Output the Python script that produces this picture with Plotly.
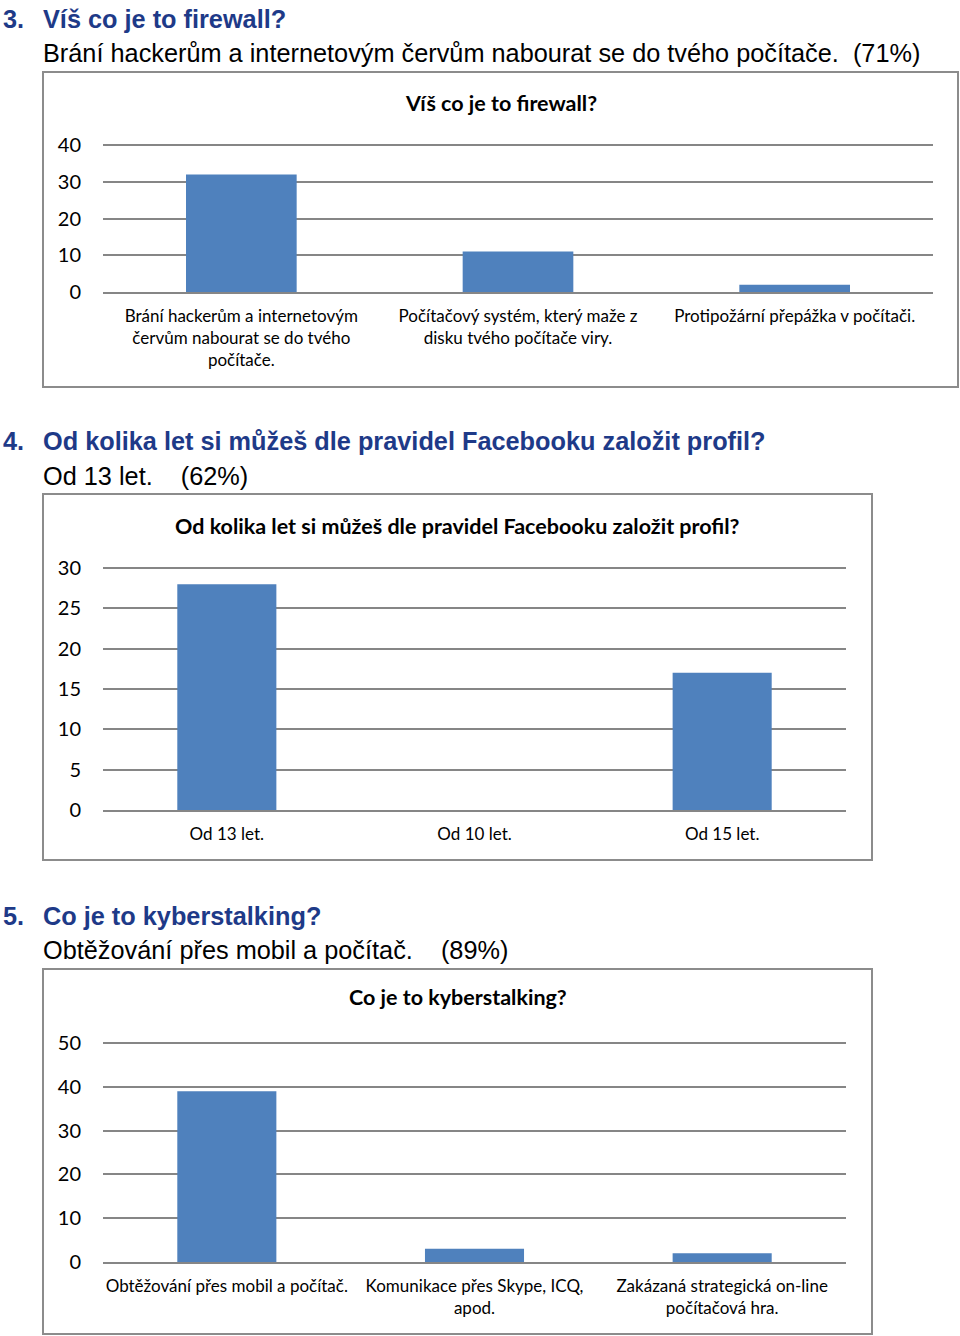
import plotly.graph_objects as go

W, H = 960, 1336

# ---- data ----
q3_categories = ["Brání hackerům a internetovým<br>červům nabourat se do tvého<br>počítače.",
                 "Počítačový systém, který maže z<br>disku tvého počítače viry.",
                 "Protipožární přepážka v počítači."]
q3_values = [32, 11, 2]
q3_ticks = [0, 10, 20, 30, 40]

q4_categories = ["Od 13 let.", "Od 10 let.", "Od 15 let."]
q4_values = [28, 0, 17]
q4_ticks = [0, 5, 10, 15, 20, 25, 30]

q5_categories = ["Obtěžování přes mobil a počítač.",
                 "Komunikace přes Skype, ICQ,<br>apod.",
                 "Zakázaná strategická on-line<br>počítačová hra."]
q5_values = [39, 3, 2]
q5_ticks = [0, 10, 20, 30, 40, 50]

headers = [
    ("3.", "Víš co je to firewall?", "Brání hackerům a internetovým červům nabourat se do tvého počítače.  (71%)"),
    ("4.", "Od kolika let si můžeš dle pravidel Facebooku založit profil?", "Od 13 let.    (62%)"),
    ("5.", "Co je to kyberstalking?", "Obtěžování přes mobil a počítač.    (89%)"),
]
chart_titles = ["Víš co je to firewall?",
                "Od kolika let si můžeš dle pravidel Facebooku založit profil?",
                "Co je to kyberstalking?"]

# ---- layout geometry (pixels) ----
BAR = "#4F81BD"
GRID = "#868686"
NAVY = "#1E3A88"
CHART_FONT = "Lato"
HEAD_FONT = "Liberation Sans"
HEAD_SIZE = 25.3
PAD = 4  # extra pixels above top gridline so plotly keeps it

def px(x):
    return x / W

def py(y):
    return 1 - y / H

charts = [
    dict(cats=q3_categories, vals=q3_values, ticks=q3_ticks, x=(103, 933), y=(292, 145),
         box=(43, 72, 958, 387), title_y=103, head_y=(19, 53)),
    dict(cats=q4_categories, vals=q4_values, ticks=q4_ticks, x=(103, 846), y=(810, 568),
         box=(43, 494, 872, 860), title_y=526, head_y=(441, 476)),
    dict(cats=q5_categories, vals=q5_values, ticks=q5_ticks, x=(103, 846), y=(1262, 1043),
         box=(43, 969, 872, 1334), title_y=997, head_y=(916, 950)),
]

fig = go.Figure()
shapes = []
annotations = []
layout_axes = {}

for i, c in enumerate(charts):
    n = "" if i == 0 else str(i + 1)
    fig.add_trace(go.Bar(x=c["cats"], y=c["vals"], marker=dict(color=BAR, line=dict(width=0)),
                         width=0.4, xaxis="x" + n, yaxis="y" + n, showlegend=False,
                         hoverinfo="x+y"))
    layout_axes["xaxis" + n] = dict(
        domain=[px(c["x"][0]), px(c["x"][1])], anchor="y" + n, automargin=False,
        showline=True, linecolor=GRID, linewidth=1.5, showgrid=False, zeroline=False,
        tickfont=dict(family=CHART_FONT, size=17, color="#000000"), ticks="",
        ticklabelstandoff=8, fixedrange=True, tickangle=0)
    top = c["ticks"][-1]
    y_bot, y_top = c["y"]
    h = y_bot - y_top
    layout_axes["yaxis" + n] = dict(
        domain=[py(y_bot), py(y_top - PAD)], anchor="x" + n, automargin=False,
        range=[0, top * (h + PAD) / h], tickvals=c["ticks"], showgrid=True, gridcolor=GRID,
        gridwidth=1.5, zeroline=False, showline=False, ticks="",
        tickfont=dict(family=CHART_FONT, size=20, color="#000000"),
        ticklabelstandoff=21, fixedrange=True)
    x0, y0, x1, y1 = c["box"]
    shapes.append(dict(type="rect", xref="paper", yref="paper", x0=px(x0), x1=px(x1),
                       y0=py(y0), y1=py(y1), line=dict(color="#8C8C8C", width=2),
                       fillcolor="rgba(0,0,0,0)", layer="below"))
    annotations.append(dict(text="<b>" + chart_titles[i] + "</b>", xref="paper", yref="paper",
                            x=px((x0 + x1) / 2), y=py(c["title_y"]), xanchor="center",
                            yanchor="middle", showarrow=False,
                            font=dict(family=CHART_FONT, size=21.5, color="#000000")))
    num, q, a = headers[i]
    annotations.append(dict(text="<b>" + num + "</b>", xref="paper", yref="paper", x=px(1),
                            y=py(c["head_y"][0]), xanchor="left", yanchor="middle",
                            showarrow=False, font=dict(family=HEAD_FONT, size=HEAD_SIZE, color=NAVY)))
    annotations.append(dict(text="<b>" + q + "</b>", xref="paper", yref="paper", x=px(41),
                            y=py(c["head_y"][0]), xanchor="left", yanchor="middle",
                            showarrow=False, font=dict(family=HEAD_FONT, size=HEAD_SIZE, color=NAVY)))
    annotations.append(dict(text=a, xref="paper", yref="paper", x=px(41),
                            y=py(c["head_y"][1]), xanchor="left", yanchor="middle",
                            showarrow=False, font=dict(family=HEAD_FONT, size=HEAD_SIZE, color="#000000")))

fig.update_layout(
    width=W, height=H, margin=dict(l=0, r=0, t=0, b=0, pad=0), autosize=False,
    paper_bgcolor="white", plot_bgcolor="white",
    shapes=shapes, annotations=annotations, bargap=0.6,
    **layout_axes)

fig.write_html("out.html", config={"displayModeBar": False},
               post_script="document.body.style.margin='0';document.body.style.overflow='hidden';")
